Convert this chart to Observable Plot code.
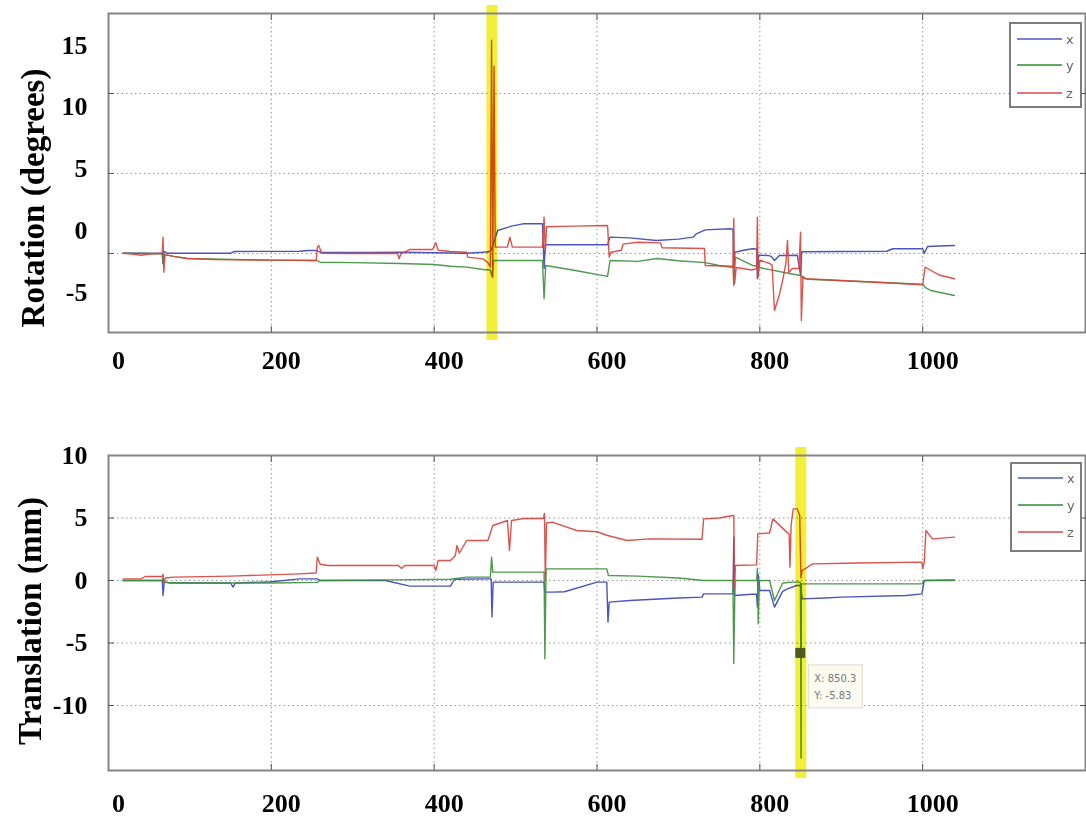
<!DOCTYPE html>
<html>
<head>
<meta charset="utf-8">
<script src="https://cdn.jsdelivr.net/npm/d3@7"></script>
<script src="https://cdn.jsdelivr.net/npm/@observablehq/plot@0.6"></script>
<style>
  html, body { margin: 0; padding: 0; background: #fff; }
  #wrap { position: relative; width: 1086px; height: 818px; overflow: hidden; }
  .panel { position: absolute; left: 0; }
  .legend { position: absolute; box-sizing: border-box; border: 2px solid #7d7d7d; background: #fff; }
</style>
</head>
<body>
<div id="wrap"></div>
<script>
// ---------------- data ----------------
const seriesNames = ["x", "y", "z"];
const seriesColors = ["#3b47b8", "#3f903f", "#d8443e"];
const legendColors = ["#7c80d0", "#62a862", "#e07878"];

const xTicks = [0, 200, 400, 600, 800, 1000];
const xGrid = [200, 400, 600, 800, 1000];

// Rotation panel (degrees) — [frame, value]
const rotTicks = [15, 10, 5, 0, -5];
const rotGrid = [11.09, 4.62, -1.86];
const rotHighlight = [471];
const rotationX = [[18,-1.84],[40,-1.84],[60,-1.86],[66,-1.84],[67,-2.7],[68.5,-1.7],[72,-1.84],[150,-1.84],[155,-1.7],[235,-1.68],[245,-1.62],[256,-1.62],[260,-1.76],[320,-1.78],[360,-1.76],[400,-1.8],[440,-1.84],[460,-1.76],[467,-1.72],[470,-1.6],[478,0],[495,0.35],[509,0.54],[533,0.54],[535,-3.08],[536.5,-1.16],[613,-1.16],[616,-0.54],[640,-0.6],[673,-0.81],[700,-0.7],[718,-0.54],[722,-0.27],[733,0.05],[763,0.14],[767,0.1],[768,-3.0],[769.5,-1.76],[780,-1.6],[791,-1.48],[796,-1.5],[797,-3.9],[798.5,-2.0],[810,-2.02],[814,-2.1],[818,-2.43],[824,-2.02],[846,-2.0],[850,-3.6],[851.5,-1.72],[900,-1.7],[956,-1.68],[963,-1.48],[1000,-1.48],[1002,-1.85],[1006,-1.3],[1020,-1.25],[1039,-1.21]];
const rotationY = [[18,-1.84],[60,-1.86],[66,-1.9],[67,-2.6],[68.5,-1.95],[80,-2.1],[97,-2.27],[200,-2.4],[256,-2.43],[260,-2.57],[300,-2.6],[358,-2.67],[400,-2.75],[420,-2.9],[440,-2.97],[460,-3.16],[469,-3.2],[471,-3.72],[473,-2.43],[533,-2.43],[535,-5.53],[537,-2.83],[570,-3.2],[613,-3.72],[616,-2.43],[650,-2.5],[674,-2.27],[700,-2.45],[733,-2.6],[750,-2.83],[767,-3.0],[768,-4.45],[770,-2.16],[791,-2.83],[797,-2.9],[799,-3.0],[830,-3.4],[850,-3.64],[853,-3.85],[860,-3.95],[1000,-4.35],[1003,-4.6],[1010,-4.86],[1039,-5.26]];
const rotationZ = [[18,-1.84],[30,-1.9],[40,-2.0],[50,-1.9],[66,-1.84],[67,-0.54],[68,-3.38],[69.5,-1.95],[80,-2.1],[97,-2.27],[130,-2.35],[200,-2.4],[255,-2.43],[256.5,-1.4],[258,-1.2],[262,-1.84],[300,-1.86],[355,-1.84],[357,-2.3],[359,-1.9],[370,-1.54],[398,-1.54],[402,-1.0],[405,-1.6],[420,-1.7],[440,-1.76],[441,-2.16],[460,-2.3],[466,-2.6],[469,-2.97],[470.5,15.4],[472,-3.8],[473.5,13.3],[475,-1.35],[490,-1.35],[493,-0.54],[496,-1.35],[533,-1.35],[535,1.08],[536.5,-1.8],[538,0.3],[570,0.35],[613,0.4],[615,-2.16],[617,-1.76],[630,-1.6],[632,-1.1],[650,-0.95],[678,-1.0],[680,-1.4],[732,-1.46],[733,-2.83],[767,-2.9],[768,0.97],[769,-4.3],[771,-3.0],[790,-3.2],[796,-3.1],[797,1.08],[798,-3.78],[800,-2.4],[812,-2.67],[815,-2.8],[818,-6.48],[824,-5.2],[828,-4.05],[832,-2.67],[834,-0.81],[835.5,-3.4],[840,-3.08],[848,-3.08],[850,-0.14],[851,-7.29],[853,-3.7],[856,-3.91],[900,-4.05],[972,-4.29],[1000,-4.4],[1003,-2.97],[1008,-3.16],[1020,-3.6],[1039,-3.91]];

// Translation panel (mm) — [frame, value]
const trTicks = [10, 5, 0, -5, -10];
const trGrid = [5, 0, -5, -10];
const trHighlight = [850.3];
const dataCursor = { x: 850.3, y: -5.83 };
const translationX = [[18,0],[60,0],[66,0],[67,-1.2],[68.5,-0.1],[75,-0.2],[150,-0.2],[153,-0.53],[156,-0.2],[200,-0.1],[235,0.13],[256,0.13],[260,0],[340,0],[370,-0.45],[420,-0.45],[425,0.1],[465,0.13],[470,0.13],[471,-2.93],[472.5,-0.13],[535,-0.13],[536,-0.93],[545,-0.93],[560,-0.9],[600,-0.13],[612,-0.13],[613.5,-3.33],[615,-1.73],[640,-1.6],[700,-1.4],[729,-1.33],[731,-1.07],[767,-1.07],[768,3.47],[769,-1.2],[790,-1.1],[796,-1.1],[797,-2.13],[798,0.5],[800,-0.8],[812,-0.8],[818,-2.13],[828,-0.87],[834,-0.67],[845,-0.4],[850,-0.4],[852,-1.47],[880,-1.4],[900,-1.33],[980,-1.2],[999,-1.07],[1002,0],[1039,0.05]];
const translationY = [[18,0],[66,0],[67,0.2],[69,-0.15],[100,-0.2],[200,-0.2],[256,-0.15],[260,0],[350,0.05],[420,0.1],[440,0.27],[469,0.27],[470.5,1.87],[472,0.67],[535,0.67],[536,-6.27],[537.5,0.93],[600,0.93],[612,0.93],[614,0.4],[650,0.35],[700,0.2],[731,0],[767,0],[768,-6.64],[769.5,0],[796,0],[797,0.96],[798,-3.47],[799.5,0],[812,0],[818,-1.6],[828,-0.2],[840,-0.13],[849.8,-0.13],[850.3,-5.83],[850.6,-14.2],[851,-0.27],[900,-0.27],[999,-0.27],[1003,0],[1039,0]];
const translationZ = [[18,0.13],[40,0.13],[45,0.32],[66,0.32],[67,0.5],[68,-0.2],[70,0.2],[80,0.27],[150,0.35],[235,0.53],[255,0.6],[256.5,1.87],[260,1.3],[270,1.2],[356,1.2],[360,0.96],[364,1.2],[400,1.2],[402,0.8],[405,1.6],[420,1.6],[426,2.0],[428,2.8],[431,2.2],[440,3.2],[466,3.2],[472,4.4],[490,4.8],[492.5,2.4],[495,4.8],[510,4.96],[534,4.96],[535.5,5.36],[536.5,0],[538,4.6],[545,4.67],[575,4.0],[600,3.9],[613,3.6],[637,3.2],[665,3.33],[729,3.3],[731,4.93],[750,5.0],[767,5.2],[768,5.2],[769,-0.6],[770,1.2],[796,1.25],[797.5,3.73],[812,3.8],[816,4.93],[833,3.87],[836,3.7],[837,1.07],[838.5,4.5],[841,5.73],[846,5.73],[849,5.2],[850.5,0.2],[852,0.8],[865,1.33],[920,1.4],[999,1.47],[1000,0.96],[1002,1.5],[1004,4.0],[1012,3.33],[1039,3.47]];

// ---------------- helpers ----------------
function tidy(arrs) {
  const out = [];
  arrs.forEach((arr, i) => arr.forEach(([f, v]) => out.push({ f, v, s: seriesNames[i] })));
  return out;
}

const FONT = "'Liberation Serif', 'Times New Roman', Times, serif";
const wrap = document.getElementById("wrap");

function panel({ rows, yDomain, yTicks, yGrid, highlight, title, height, marginTop, marginBottom, titleDx, titleDy, xPad, top, extra = [] }) {
  const plot = Plot.plot({
    width: 1086,
    height,
    marginLeft: 108,
    marginRight: 1,
    marginTop,
    marginBottom,
    style: { fontFamily: FONT, background: "#fff", overflow: "visible" },
    x: { domain: [0, 1200] },
    y: { domain: yDomain },
    color: { domain: seriesNames, range: seriesColors },
    marks: [
      Plot.gridX(xGrid, { stroke: "#8a8a8a", strokeOpacity: 0.9, strokeDasharray: "1.5,3", strokeWidth: 1 }),
      Plot.gridY(yGrid, { stroke: "#8a8a8a", strokeOpacity: 0.9, strokeDasharray: "1.5,3", strokeWidth: 1 }),
      Plot.line(rows, { x: "f", y: "v", z: "s", stroke: "s", strokeWidth: 1.4, strokeOpacity: 0.92 }),
      Plot.ruleX(highlight, { stroke: "#f3ee3a", strokeWidth: 11, insetTop: -8, insetBottom: -8, mixBlendMode: "multiply" }),
      Plot.frame({ stroke: "#858585", strokeWidth: 2 }),
      // MATLAB-style inward ticks
      Plot.axisX(xGrid, { anchor: "bottom", tickSize: -6, tickFormat: () => "", stroke: "#555", label: null }),
      Plot.axisX(xGrid, { anchor: "top", tickSize: -6, tickFormat: () => "", stroke: "#555", label: null }),
      Plot.axisY(yGrid, { anchor: "left", tickSize: -6, tickFormat: () => "", stroke: "#555", label: null }),
      Plot.axisY(yGrid, { anchor: "right", tickSize: -6, tickFormat: () => "", stroke: "#555", label: null }),
      // bold tick labels
      Plot.axisX(xTicks, { anchor: "bottom", tickSize: 0, tickPadding: xPad, dx: 10, tickFormat: d => String(d), fontSize: 26, fontWeight: "bold", fill: "#000", label: null }),
      Plot.axisY(yTicks, { anchor: "left", tickSize: 0, tickPadding: 21, tickFormat: d => String(d), fontSize: 26, fontWeight: "bold", fill: "#000", label: null }),
      Plot.text([title], { text: d => d, frameAnchor: "left", textAnchor: "middle", lineAnchor: "middle", rotate: -90, dx: titleDx, dy: titleDy, fontSize: 33, fontWeight: "bold", fill: "#000" }),
      ...extra
    ]
  });
  plot.classList.add("panel");
  plot.style.top = top + "px";
  wrap.appendChild(plot);
  return plot;
}

function legend(left, top, width, height, rowYs) {
  const div = document.createElement("div");
  div.className = "legend";
  div.style.left = left + "px";
  div.style.top = top + "px";
  div.style.width = width + "px";
  div.style.height = height + "px";
  const svg = d3.create("svg").attr("width", width - 4).attr("height", height - 4);
  seriesNames.forEach((name, i) => {
    svg.append("line").attr("x1", 6).attr("x2", 51).attr("y1", rowYs[i]).attr("y2", rowYs[i])
      .attr("stroke", legendColors[i]).attr("stroke-width", 2);
    svg.append("text").attr("x", 55).attr("y", rowYs[i]).attr("dy", "0.35em")
      .attr("font-family", "'DejaVu Sans', sans-serif").attr("font-size", 13).attr("fill", "#666").text(name);
  });
  div.appendChild(svg.node());
  wrap.appendChild(div);
}

// ---------------- top panel ----------------
panel({
  rows: tidy([rotationX, rotationY, rotationZ]),
  yDomain: [-8.26, 17.57],
  yTicks: rotTicks,
  yGrid: rotGrid,
  highlight: rotHighlight,
  title: "Rotation (degrees)",
  height: 400, marginTop: 13, marginBottom: 68,
  titleDx: -75, titleDy: 25, xPad: 18, top: 0
});

// ---------------- bottom panel ----------------
const xFallback = d3.scaleLinear().domain([0, 1200]).range([108, 1085]);
const yFallback = d3.scaleLinear().domain([-15.2, 10]).range([370, 55]);
const cursorMark = (index, scales) => {
  const sx = scales && typeof scales.x === "function" ? scales.x : xFallback;
  const sy = scales && typeof scales.y === "function" ? scales.y : yFallback;
  const px = sx(dataCursor.x), py = sy(dataCursor.y);
  const g = d3.create("svg:g").attr("text-anchor", "start");
  g.append("rect").attr("x", px + 8).attr("y", py + 12).attr("width", 54).attr("height", 43)
    .attr("fill", "#fbfbf1").attr("stroke", "#dedbc8").attr("stroke-width", 1);
  g.append("text").attr("x", px + 14).attr("y", py + 29).attr("text-anchor", "start").attr("font-family", "'DejaVu Sans', sans-serif")
    .attr("font-size", 10).attr("fill", "#777").text("X: " + dataCursor.x);
  g.append("text").attr("x", px + 14).attr("y", py + 46).attr("text-anchor", "start").attr("font-family", "'DejaVu Sans', sans-serif")
    .attr("font-size", 10).attr("fill", "#777").text("Y: " + dataCursor.y);
  g.append("rect").attr("x", px - 5).attr("y", py - 5).attr("width", 10).attr("height", 10).attr("fill", "#4f5a1e");
  return g.node();
};

panel({
  rows: tidy([translationX, translationY, translationZ]),
  yDomain: [-15.2, 10],
  yTicks: trTicks,
  yGrid: trGrid,
  highlight: trHighlight,
  title: "Translation (mm)",
  height: 418, marginTop: 55, marginBottom: 48,
  titleDx: -78, titleDy: 8, xPad: 23, top: 400,
  extra: [cursorMark]
});

legend(1009, 22, 73, 86, [15, 41, 69]);
legend(1010, 462, 72, 90, [14, 41, 68]);
</script>
</body>
</html>
